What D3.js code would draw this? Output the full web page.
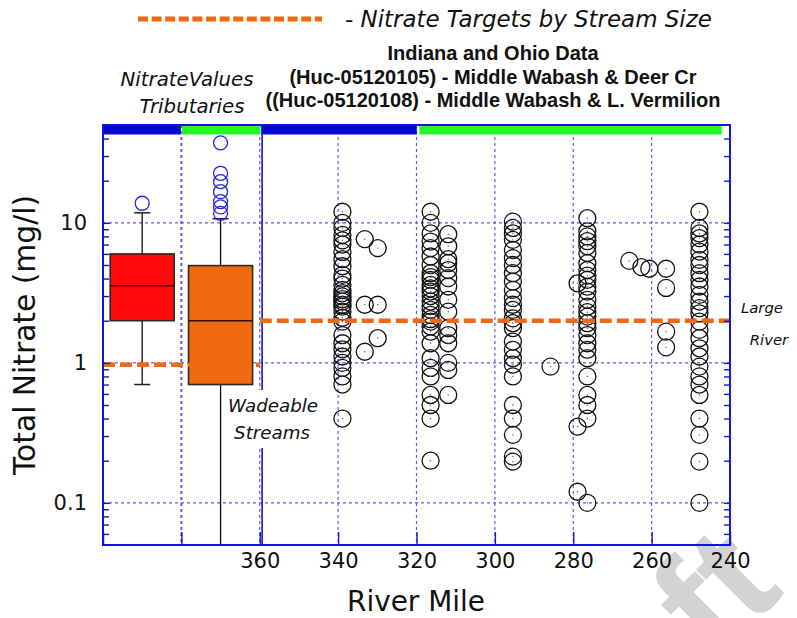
<!DOCTYPE html>
<html>
<head>
<meta charset="utf-8">
<script src="https://cdn.jsdelivr.net/npm/d3@7"></script>
<style>
  body { margin: 0; background: #fff; }
  svg { display: block; }
  .hand { font-family: "DejaVu Sans", sans-serif; }
  .bold { font-family: "Liberation Sans", Arial, sans-serif; font-weight: bold; }
</style>
</head>
<body>
<svg id="chart" width="797" height="618"></svg>
<script>
// ---- Sampling sites: river mile and total nitrate results (mg/l) ----
const siteMiles = [338.9, 333.2, 329.9, 316.4, 311.9, 295.4, 285.8, 278.9, 276.4, 265.7, 262.6, 260.6, 256.3, 247.8];
const siteValues = [
  [12.0, 10.0, 9.2, 8.2, 7.5, 7.0, 6.2, 5.5, 4.9, 4.25, 4.0, 3.6, 3.32, 3.15, 2.98, 2.85, 2.74, 2.6, 2.52, 2.32, 2.1, 1.97, 1.58, 1.38, 1.25, 1.11, 1.0, 0.92, 0.80, 0.70, 0.40],
  [7.65, 2.6, 1.2],
  [6.6, 2.6, 1.5],
  [12.0, 10.0, 8.4, 7.35, 6.6, 5.75, 5.0, 4.37, 4.1, 3.92, 3.6, 3.4, 3.23, 3.0, 2.74, 2.55, 2.39, 2.2, 2.05, 1.97, 1.82, 1.67, 1.38, 1.08, 0.92, 0.80, 0.59, 0.50, 0.40, 0.20],
  [8.3, 6.8, 5.5, 5.15, 4.6, 4.03, 3.51, 2.82, 2.32, 1.77, 1.58, 1.38, 1.0, 0.89, 0.59],
  [10.2, 9.2, 8.4, 7.56, 6.4, 5.6, 5.0, 4.37, 3.81, 3.32, 2.9, 2.6, 2.39, 2.08, 1.92, 1.77, 1.42, 1.24, 1.08, 0.97, 0.80, 0.50, 0.40, 0.306, 0.214, 0.197],
  [0.94],
  [3.7, 0.35, 0.12],
  [10.8, 8.7, 8.0, 7.4, 6.8, 6.1, 5.15, 4.6, 4.2, 3.92, 3.5, 3.23, 2.82, 2.52, 2.3, 2.14, 1.92, 1.77, 1.58, 1.38, 1.24, 1.08, 0.80, 0.59, 0.50, 0.40, 0.10],
  [5.35],
  [4.83],
  [4.7],
  [4.7, 3.43, 1.67, 1.29],
  [12.0, 9.2, 8.4, 7.78, 7.0, 6.24, 5.44, 5.0, 4.37, 3.92, 3.51, 3.06, 2.74, 2.46, 2.26, 1.97, 1.72, 1.5, 1.27, 1.11, 0.94, 0.80, 0.70, 0.59, 0.40, 0.306, 0.197, 0.10]
];

// ---- Tributary summary boxes (plotted left of the main stem) ----
const boxNames    = ["Tributaries", "Wadeable Streams"];
const boxMiles    = [390, 370];
const boxLow      = [0.70, 0.02];
const boxQ1       = [2.0, 0.70];
const boxMedian   = [3.55, 2.0];
const boxQ3       = [6.0, 4.95];
const boxHigh     = [11.8, 10.7];
const boxOutliers = [[13.8], [37.3, 22.6, 19.7, 16.7, 14.2, 13.0, 11.7]];

// ---- Nitrate targets by stream size ----
const targetNames  = ["Wadeable Streams", "Large River"];
const targetValues = [0.97, 2.0];
const targetFrom   = [400, 360];
const targetTo     = [360, 240];

// ---- Stream size band along the top ----
const bandFrom  = [400, 380, 359.7, 319.4];
const bandTo    = [380, 359.7, 319.8, 242];
const bandClass = [0, 1, 0, 1];

// ---- Axis ticks ----
const xTicks      = [400, 380, 360, 340, 320, 300, 280, 260, 240];
const xTickLabels = ["", "", "360", "340", "320", "300", "280", "260", "240"];
const xGrid       = [380, 360, 340, 320, 300, 280, 260];
const yMajor      = [0.1, 1, 10];
const yMajorLabels = ["0.1", "1", "10"];
const yMinor      = [0.06, 0.07, 0.08, 0.09, 0.2, 0.3, 0.4, 0.5, 0.6, 0.7, 0.8, 0.9,
                     2, 3, 4, 5, 6, 7, 8, 9, 20, 30, 40];
const panelDivider = 359.4;

// ---- Styles ----
const AXIS_BLUE = "#1414d4";
const GRID_BLUE = "#5a5aee";
const ORANGE = "#ef6913";
const BAND_COLORS = ["#0606cf", "#22f822"];
const BOX_FILLS = ["#ff0a0a", "#f06a12"];

const svg = d3.select("#chart");
const pL = 103, pR = 730, pT = 125, pB = 545;

const x = d3.scaleLinear().domain([400, 240]).range([pL, pR]);
const y = d3.scaleLog().domain([0.05, 50]).range([pB, pT]);

function fitWidth(sel, w) {
  const len = sel.node().getComputedTextLength();
  const fs = parseFloat(sel.style("font-size"));
  sel.style("font-size", (fs * w / len) + "px");
  return fs * w / len;
}

// Watermark
svg.append("text")
  .attr("class", "bold")
  .style("font-size", "150px")
  .attr("fill", "#d3d3d3")
  .attr("text-anchor", "end")
  .attr("transform", "translate(786,592) rotate(-45)")
  .text("Draft");

svg.append("defs").append("clipPath").attr("id", "plotClip")
  .append("rect").attr("x", pL).attr("y", pT).attr("width", pR - pL).attr("height", pB - pT);

const plot = svg.append("g").attr("clip-path", "url(#plotClip)");

// Grid lines
plot.selectAll(".hgrid").data(yMajor).join("line")
  .attr("x1", pL).attr("x2", pR)
  .attr("y1", d => y(d)).attr("y2", d => y(d))
  .attr("stroke", GRID_BLUE).attr("stroke-width", 1.2).attr("stroke-dasharray", "3,3");
plot.selectAll(".vgrid").data(xGrid).join("line")
  .attr("x1", d => x(d)).attr("x2", d => x(d))
  .attr("y1", pT).attr("y2", pB)
  .attr("stroke", GRID_BLUE).attr("stroke-width", d => d === 380 ? 2 : 1.2).attr("stroke-dasharray", "3,3");

// Divider between tributary summary and main stem
plot.append("line")
  .attr("x1", x(panelDivider)).attr("x2", x(panelDivider))
  .attr("y1", pT).attr("y2", pB)
  .attr("stroke", AXIS_BLUE).attr("stroke-width", 1.6);

// Box plots
const boxes = boxNames.map((n, i) => ({
  name: n, mile: boxMiles[i], low: boxLow[i], q1: boxQ1[i], med: boxMedian[i],
  q3: boxQ3[i], high: boxHigh[i], out: boxOutliers[i], fill: BOX_FILLS[i]
}));
const bw = 32, cw = 8;
const bg = plot.selectAll(".box").data(boxes).join("g");
bg.append("line")
  .attr("x1", d => x(d.mile)).attr("x2", d => x(d.mile))
  .attr("y1", d => y(d.low)).attr("y2", d => y(d.high))
  .attr("stroke", "#111").attr("stroke-width", 1.3);
bg.append("line")
  .attr("x1", d => x(d.mile) - cw).attr("x2", d => x(d.mile) + cw)
  .attr("y1", d => y(d.high)).attr("y2", d => y(d.high))
  .attr("stroke", "#222").attr("stroke-width", 1.5);
bg.append("line")
  .attr("x1", d => x(d.mile) - cw).attr("x2", d => x(d.mile) + cw)
  .attr("y1", d => y(d.low)).attr("y2", d => y(d.low))
  .attr("stroke", "#222").attr("stroke-width", 1.5);
bg.append("rect")
  .attr("x", d => x(d.mile) - bw).attr("width", bw * 2)
  .attr("y", d => y(d.q3)).attr("height", d => y(d.q1) - y(d.q3))
  .attr("fill", d => d.fill).attr("stroke", "#2a2a2a").attr("stroke-width", 1.6);
bg.append("line")
  .attr("x1", d => x(d.mile) - bw).attr("x2", d => x(d.mile) + bw)
  .attr("y1", d => y(d.med)).attr("y2", d => y(d.med))
  .attr("stroke", "#3a0a00").attr("stroke-width", 1.4);
bg.each(function (d) {
  d3.select(this).selectAll("circle").data(d.out).join("circle")
    .attr("cx", x(d.mile)).attr("cy", v => y(v)).attr("r", 7)
    .attr("fill", "none").attr("stroke", "#2424e0").attr("stroke-width", 1.3);
});

// Sample points
const points = siteMiles.flatMap((m, i) => siteValues[i].map(v => ({ mile: m, value: v })));
plot.selectAll(".pt").data(points).join("circle")
  .attr("cx", d => x(d.mile)).attr("cy", d => y(d.value)).attr("r", 8.5)
  .attr("fill", "none").attr("stroke", "#111").attr("stroke-width", 1.3);
plot.selectAll(".ptc").data(points).join("circle")
  .attr("cx", d => x(d.mile)).attr("cy", d => y(d.value)).attr("r", 0.7)
  .attr("fill", "#555");

// Target lines
plot.selectAll(".target").data(targetValues).join("line")
  .attr("x1", (d, i) => x(targetFrom[i])).attr("x2", (d, i) => x(targetTo[i]))
  .attr("y1", d => y(d)).attr("y2", d => y(d))
  .attr("stroke", ORANGE).attr("stroke-width", 4.5).attr("stroke-dasharray", "12,5");

// Stream size band
svg.selectAll(".band").data(bandFrom).join("rect")
  .attr("x", (d, i) => x(d) + 0.5)
  .attr("width", (d, i) => x(bandTo[i]) - x(d) - 1)
  .attr("y", pT).attr("height", 9.5)
  .attr("fill", (d, i) => BAND_COLORS[bandClass[i]]);

// Frame
svg.append("rect")
  .attr("x", pL).attr("y", pT).attr("width", pR - pL).attr("height", pB - pT)
  .attr("fill", "none").attr("stroke", AXIS_BLUE).attr("stroke-width", 2);

// Axes
svg.append("g").attr("transform", `translate(${pL},0)`)
  .call(d3.axisLeft(y).tickValues(yMajor).tickSize(-7).tickPadding(16)
    .tickFormat((d, i) => yMajorLabels[i]));
svg.append("g").attr("transform", `translate(${pL},0)`)
  .call(d3.axisLeft(y).tickValues(yMinor).tickSize(-6).tickFormat(""));
svg.append("g").attr("transform", `translate(${pR},0)`)
  .call(d3.axisRight(y).tickValues(yMajor.concat(yMinor)).tickSize(-6).tickFormat(""));
svg.append("g").attr("transform", `translate(0,${pB})`)
  .call(d3.axisBottom(x).tickValues(xTicks).tickSize(-13).tickPadding(8)
    .tickFormat((d, i) => xTickLabels[i]));
svg.selectAll(".domain").remove();
svg.selectAll(".tick line").attr("stroke", AXIS_BLUE).attr("stroke-width", 1.4);
svg.selectAll(".tick text")
  .attr("class", "hand")
  .style("font-family", "'DejaVu Sans', sans-serif")
  .style("font-size", "21px")
  .attr("fill", "#111");

// Axis titles
const yTitle = svg.append("text").attr("class", "hand")
  .style("font-size", "26px").attr("text-anchor", "middle").attr("fill", "#111")
  .attr("transform", "translate(35,335) rotate(-90)")
  .text("Total Nitrate (mg/l)");
fitWidth(yTitle, 280);
yTitle.attr("textLength", 280).attr("lengthAdjust", "spacingAndGlyphs");
const xTitle = svg.append("text").attr("class", "hand")
  .style("font-size", "26px").attr("text-anchor", "middle").attr("fill", "#111")
  .attr("x", 416).attr("y", 611)
  .text("River Mile");
fitWidth(xTitle, 138);

// Legend
svg.append("line")
  .attr("x1", 138).attr("x2", 322).attr("y1", 19).attr("y2", 19)
  .attr("stroke", ORANGE).attr("stroke-width", 5).attr("stroke-dasharray", "10,3.6");
const legText = svg.append("text").attr("class", "hand")
  .style("font-size", "20px").attr("font-style", "italic").attr("fill", "#111")
  .attr("x", 345).attr("y", 27)
  .text("- Nitrate Targets by Stream Size");
fitWidth(legText, 367);

// Title block
const titleLines = ["Indiana and Ohio Data",
  "(Huc-05120105) - Middle Wabash & Deer Cr",
  "((Huc-05120108) - Middle Wabash & L. Vermilion"];
const tl = svg.selectAll(".title").data(titleLines).join("text")
  .attr("class", "bold").style("font-size", "16px").attr("fill", "#111")
  .attr("text-anchor", "middle")
  .attr("x", 493).attr("y", (d, i) => 60 + i * 23.5)
  .text(d => d);
const tfs = fitWidth(d3.select(tl.nodes()[2]), 455);
tl.style("font-size", tfs + "px");

// Tributary panel label
const trib1 = svg.append("text").attr("class", "hand")
  .style("font-size", "18px").attr("font-style", "italic").attr("fill", "#111")
  .attr("text-anchor", "middle").attr("x", 187).attr("y", 86)
  .text("NitrateValues");
const tribFs = fitWidth(trib1, 133);
svg.append("text").attr("class", "hand")
  .style("font-size", tribFs + "px").attr("font-style", "italic").attr("fill", "#111")
  .attr("text-anchor", "middle").attr("x", 192).attr("y", 113)
  .text("Tributaries");

// Target annotations
svg.append("rect").attr("x", 225).attr("y", 390).attr("width", 96).attr("height", 58).attr("fill", "#fff");
const wade = svg.append("text").attr("class", "hand")
  .style("font-size", "18px").attr("font-style", "italic").attr("fill", "#111")
  .attr("text-anchor", "middle").attr("x", 273).attr("y", 411.5)
  .text("Wadeable");
const wadeFs = fitWidth(wade, 90);
svg.append("text").attr("class", "hand")
  .style("font-size", wadeFs + "px").attr("font-style", "italic").attr("fill", "#111")
  .attr("text-anchor", "middle").attr("x", 272).attr("y", 439)
  .text("Streams");

const large = svg.append("text").attr("class", "hand")
  .style("font-size", "16px").attr("font-style", "italic").attr("fill", "#111")
  .attr("text-anchor", "middle").attr("x", 762).attr("y", 313)
  .text("Large");
const largeFs = fitWidth(large, 42);
svg.append("text").attr("class", "hand")
  .style("font-size", largeFs + "px").attr("font-style", "italic").attr("fill", "#111")
  .attr("text-anchor", "middle").attr("x", 769).attr("y", 345)
  .text("River");
</script>
</body>
</html>
